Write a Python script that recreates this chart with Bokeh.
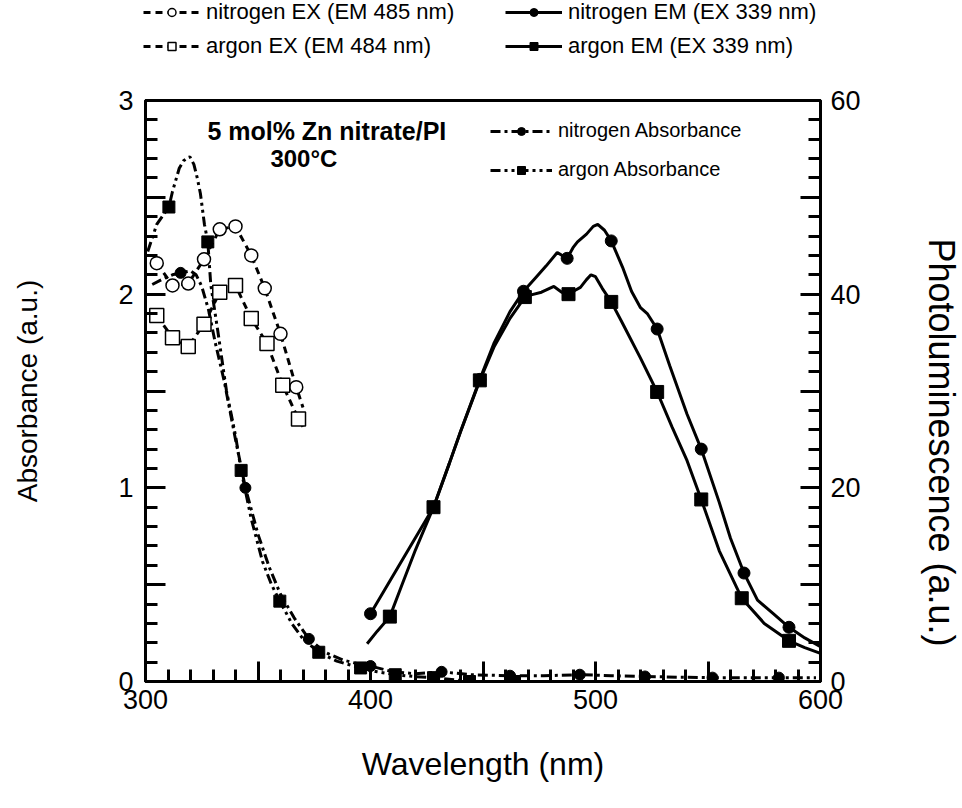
from bokeh.plotting import figure
from bokeh.models import Range1d, LinearAxis, FixedTicker, Legend, LegendItem, Label
from bokeh.layouts import column, row
from bokeh.embed import file_html
from bokeh.resources import INLINE

# ---------------- data ----------------
# Excitation spectra (photoluminescence, right axis)
n_ex_x = [305, 312, 319, 326, 333, 340, 347, 353, 360, 367]
n_ex_y = [43.2, 40.9, 41.1, 43.6, 46.7, 47.0, 44.0, 40.6, 35.9, 30.4]
n_ex_line_x = [305, 312, 319, 326, 333, 340, 347, 353, 360, 367, 370]
n_ex_line_y = [43.2, 40.9, 41.1, 43.6, 46.7, 47.0, 44.0, 40.6, 35.9, 30.4, 28.3]

a_ex_x = [305, 312, 319, 326, 333, 340, 347, 354, 361, 368]
a_ex_y = [37.8, 35.5, 34.6, 36.9, 40.2, 40.9, 37.5, 34.9, 30.6, 27.1]
a_ex_line_x = [305, 312, 319, 326, 333, 340, 347, 354, 361, 368, 370]
a_ex_line_y = [37.8, 35.5, 34.6, 36.9, 40.2, 40.9, 37.5, 34.9, 30.6, 27.1, 26.3]

# Emission spectra (photoluminescence, right axis)
n_em_line_x = [400, 428, 435, 440, 448.6, 455, 462, 468, 473, 478, 483, 487.4, 490, 492,
               496, 499, 501, 504, 507, 512, 516, 520, 523, 527.4, 533, 540.7, 547, 555,
               560, 566, 572, 579, 586, 593, 600]
n_em_line_y = [7.0, 18.0, 22.5, 25.8, 31.2, 35.0, 38.2, 40.3, 41.6, 42.9, 44.3, 43.7, 44.8, 45.4,
               46.2, 47.0, 47.2, 46.6, 45.5, 42.8, 40.3, 38.6, 38.0, 36.4, 32.6, 27.6, 24.0, 18.5,
               14.8, 11.2, 8.4, 7.0, 5.6, 4.5, 3.6]
n_em_x = [400, 428, 448.6, 468, 487.4, 507, 527.4, 547, 566, 586]
n_em_y = [7.0, 18.0, 31.2, 40.3, 43.7, 45.5, 36.4, 24.0, 11.2, 5.6]

a_em_line_x = [398.5, 403, 408.6, 414, 420, 428, 435, 440, 448.6, 455, 462, 468.6, 471, 476,
               481.5, 485, 488, 491, 493.3, 496, 498, 500, 503, 507, 512, 520, 527.4, 534,
               540.7, 547, 555, 565, 575, 586, 593, 600]
a_em_line_y = [3.9, 5.2, 6.7, 10.0, 13.6, 18.0, 22.5, 25.8, 31.1, 34.6, 37.5, 39.7, 39.9, 40.2,
               40.8, 40.2, 40.0, 40.4, 40.7, 41.5, 42.0, 41.8, 40.6, 39.2, 37.0, 33.4, 29.9, 26.3,
               22.8, 18.8, 13.5, 8.6, 6.0, 4.2, 3.5, 2.9]
a_em_x = [408.6, 428, 448.6, 468.6, 488, 507, 527.4, 547, 565, 586]
a_em_y = [6.7, 18.0, 31.1, 39.7, 40.0, 39.2, 29.9, 18.8, 8.6, 4.2]

# Absorbance (left axis)
n_abs_line_x = [303, 308, 312, 315.6, 320, 322.5, 325, 328, 331, 335, 340, 344.4, 350, 355, 360,
                366, 372.6, 380, 388, 395, 400, 410, 420, 431.6, 445, 462, 477, 493, 507, 522,
                537, 552, 567, 581.5, 598]
n_abs_line_y = [2.05, 2.08, 2.10, 2.11, 2.12, 2.10, 2.04, 1.92, 1.75, 1.55, 1.25, 1.0, 0.76, 0.59,
                0.45, 0.33, 0.22, 0.15, 0.11, 0.09, 0.08, 0.05, 0.04, 0.05, 0.035, 0.03, 0.03,
                0.035, 0.03, 0.026, 0.022, 0.02, 0.02, 0.02, 0.02]
n_abs_x = [315.6, 344.4, 372.6, 400, 431.6, 462, 493, 522, 552, 581.5]
n_abs_y = [2.11, 1.0, 0.22, 0.08, 0.05, 0.03, 0.035, 0.026, 0.02, 0.02]

a_abs_line_x = [301, 305, 310.4, 312, 315, 317, 319.7, 321.5, 323, 324.4, 326.2, 327.7, 329, 332,
                336, 340, 342.5, 347, 352, 356, 359.7, 365, 370, 377, 385, 395.6, 403, 411, 420,
                428, 436, 444, 454, 464, 470]
a_abs_line_y = [2.22, 2.36, 2.45, 2.53, 2.65, 2.69, 2.71, 2.67, 2.60, 2.52, 2.36, 2.27, 2.05, 1.82,
                1.5, 1.27, 1.09, 0.84, 0.62, 0.5, 0.415, 0.3, 0.22, 0.151, 0.105, 0.07, 0.05, 0.035,
                0.025, 0.02, 0.01, 0.0, 0.0, 0.0, 0.0]
a_abs_x = [310.4, 327.7, 342.5, 359.7, 377, 395.6, 411, 428, 444, 464]
a_abs_y = [2.45, 2.27, 1.09, 0.415, 0.151, 0.07, 0.035, 0.02, 0.0, 0.0]

x_ticks = [300, 350, 400, 450, 500, 550, 600]
x_minor = list(range(300, 601, 10))
y_ticks = [0, 0.5, 1, 1.5, 2, 2.5, 3]
y_minor = [i / 10 for i in range(0, 31)]
r_ticks = [0, 10, 20, 30, 40, 50, 60]
r_minor = list(range(0, 61, 2))

FONT = "Liberation Sans"
BG = "white"

# ---------------- styles ----------------
ABS_N = dict(line_color="black", line_width=3, line_dash="10 4 3 4")
ABS_A = dict(line_color="black", line_width=3, line_dash="10 4 3 4 3 4")
EX_L = dict(line_color="black", line_width=3, line_dash="7 5")
EM_L = dict(line_color="black", line_width=3)
MK_ABS_N = dict(marker="circle", size=11, fill_color="black", line_color="black")
MK_ABS_A = dict(marker="square", size=12, fill_color="black", line_color="black")
MK_EX_N = dict(marker="circle", size=13, fill_color=BG, line_color="black", line_width=1.5)
MK_EX_A = dict(marker="square", size=14, fill_color=BG, line_color="black", line_width=1.5)
MK_EM_N = dict(marker="circle", size=12, fill_color="black", line_color="black")
MK_EM_A = dict(marker="square", size=13, fill_color="black", line_color="black")


def bare_fig(w, h):
    f = figure(width=w, height=h, output_backend="svg", toolbar_location=None,
               x_range=Range1d(0, 1), y_range=Range1d(0, 1),
               x_axis_type=None, y_axis_type=None,
               min_border_left=0, min_border_right=0, min_border_top=0, min_border_bottom=0,
               background_fill_color=BG, border_fill_color=BG)
    f.outline_line_color = None
    f.xgrid.visible = False
    f.ygrid.visible = False
    f.frame_align = False
    return f


def make_legend(fig, items, loc, size="22px", spacing=8, gw=57):
    lg = Legend(items=items, location=loc, orientation="vertical",
                background_fill_alpha=0, border_line_alpha=0, padding=0, margin=0,
                spacing=spacing, glyph_width=gw, glyph_height=20, label_standoff=6,
                label_text_font=FONT, label_text_font_size=size,
                label_text_color="black", label_height=20)
    fig.add_layout(lg)
    return lg


# ---------------- legend strip above the plot ----------------
# (series drawn here fall outside this strip's 0..1 ranges; they only feed the legend)
top = bare_fig(962, 70)
t_ex_n_l = top.line(n_ex_line_x, n_ex_line_y, **EX_L)
t_ex_n_m = top.scatter(n_ex_x, n_ex_y, **MK_EX_N)
t_ex_a_l = top.line(a_ex_line_x, a_ex_line_y, **EX_L)
t_ex_a_m = top.scatter(a_ex_x, a_ex_y, **MK_EX_A)
t_em_n_l = top.line(n_em_line_x, n_em_line_y, **EM_L)
t_em_n_m = top.scatter(n_em_x, n_em_y, **MK_EM_N)
t_em_a_l = top.line(a_em_line_x, a_em_line_y, **EM_L)
t_em_a_m = top.scatter(a_em_x, a_em_y, **MK_EM_A)

make_legend(top, [LegendItem(label="nitrogen EX (EM 485 nm)", renderers=[t_ex_n_l, t_ex_n_m]),
                  LegendItem(label="argon EX (EM 484 nm)", renderers=[t_ex_a_l, t_ex_a_m])],
            (143, 11))
make_legend(top, [LegendItem(label="nitrogen EM (EX 339 nm)", renderers=[t_em_n_l, t_em_n_m]),
                  LegendItem(label="argon EM (EX 339 nm)", renderers=[t_em_a_l, t_em_a_m])],
            (505, 11))

# ---------------- main plot ----------------
p = figure(width=910, height=738, output_backend="svg", toolbar_location=None,
           x_range=Range1d(300, 600), y_range=Range1d(0, 3),
           min_border_left=145, min_border_right=90, min_border_top=30,
           min_border_bottom=127, background_fill_color=BG, border_fill_color=BG)
p.frame_align = False
p.extra_y_ranges = {"pl": Range1d(0, 60)}
p.xgrid.visible = False
p.ygrid.visible = False
p.outline_line_color = "black"
p.outline_line_width = 3

right = LinearAxis(y_range_name="pl")
p.add_layout(right, "right")

p.xaxis[0].ticker = FixedTicker(ticks=x_ticks, minor_ticks=x_minor)
p.xaxis[0].major_label_overrides = {350: "", 450: "", 550: ""}
p.yaxis[0].ticker = FixedTicker(ticks=y_ticks, minor_ticks=y_minor)
p.yaxis[0].major_label_overrides = {0.5: "", 1.5: "", 2.5: ""}
right.ticker = FixedTicker(ticks=r_ticks, minor_ticks=r_minor)
right.major_label_overrides = {10: "", 30: "", 50: ""}

p.xaxis[0].axis_label = "Wavelength (nm)"
p.yaxis[0].axis_label = "Absorbance (a.u.)"

for ax in [p.xaxis[0], p.yaxis[0], right]:
    ax.axis_line_width = 3
    ax.axis_line_color = "black"
    ax.major_tick_line_width = 3
    ax.minor_tick_line_width = 3
    ax.major_tick_line_color = "black"
    ax.minor_tick_line_color = "black"
    ax.major_tick_in = 20
    ax.major_tick_out = 0
    ax.minor_tick_in = 12
    ax.minor_tick_out = 0
    ax.major_label_text_font = FONT
    ax.major_label_text_font_size = "27px"
    ax.major_label_text_color = "black"
    ax.axis_label_text_font = FONT
    ax.axis_label_text_font_style = "normal"
    ax.axis_label_text_color = "black"

p.xaxis[0].major_label_standoff = 8
p.xaxis[0].axis_label_standoff = 34
p.xaxis[0].axis_label_text_font_size = "32px"
p.yaxis[0].major_label_standoff = 12
p.yaxis[0].axis_label_standoff = 72
p.yaxis[0].axis_label_text_font_size = "28px"
right.major_label_standoff = 10

abs_n_line = p.line(n_abs_line_x, n_abs_line_y, **ABS_N)
abs_a_line = p.line(a_abs_line_x, a_abs_line_y, **ABS_A)
abs_n_mk = p.scatter(n_abs_x, n_abs_y, **MK_ABS_N)
abs_a_mk = p.scatter(a_abs_x, a_abs_y, **MK_ABS_A)

p.line(n_ex_line_x, n_ex_line_y, y_range_name="pl", **EX_L)
p.line(a_ex_line_x, a_ex_line_y, y_range_name="pl", **EX_L)
p.scatter(n_ex_x, n_ex_y, y_range_name="pl", **MK_EX_N)
p.scatter(a_ex_x, a_ex_y, y_range_name="pl", **MK_EX_A)

p.line(n_em_line_x, n_em_line_y, y_range_name="pl", **EM_L)
p.line(a_em_line_x, a_em_line_y, y_range_name="pl", **EM_L)
p.scatter(n_em_x, n_em_y, y_range_name="pl", **MK_EM_N)
p.scatter(a_em_x, a_em_y, y_range_name="pl", **MK_EM_A)

make_legend(p, [LegendItem(label="nitrogen Absorbance", renderers=[abs_n_line, abs_n_mk]),
                LegendItem(label="argon Absorbance", renderers=[abs_a_line, abs_a_mk])],
            (345, 500), size="20px", spacing=16, gw=62)

p.add_layout(Label(x=327.5, y=2.845, text="5 mol% Zn nitrate/PI", text_font=FONT,
                   text_font_style="bold", text_font_size="25px", text_baseline="middle",
                   text_color="black"))
p.add_layout(Label(x=355.5, y=2.70, text="300°C", text_font=FONT,
                   text_font_style="bold", text_font_size="24px", text_baseline="middle",
                   text_color="black"))

# ---------------- right axis title strip ----------------
rfig = bare_fig(52, 738)
rfig.add_layout(Label(x=31, y=366, x_units="screen", y_units="screen",
                      text="Photoluminescence (a.u.)", angle=-90, angle_units="deg",
                      text_align="center", text_baseline="middle", text_font=FONT,
                      text_font_size="36px", text_color="black"))

layout = column(top, row(p, rfig, spacing=0), spacing=0)
open("out.html", "w").write(file_html(layout, INLINE))
